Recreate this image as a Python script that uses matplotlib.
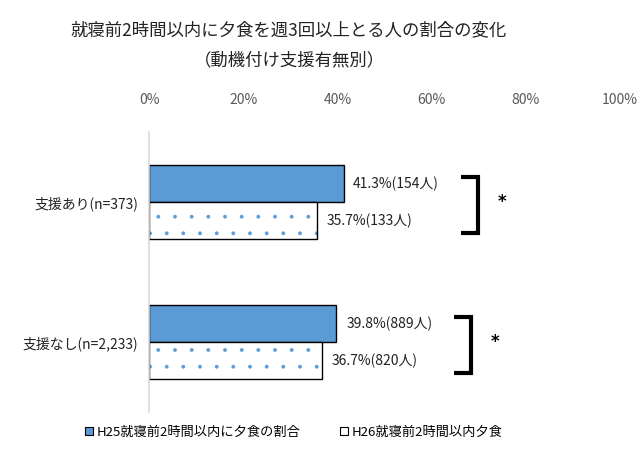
import numpy as np
import matplotlib
matplotlib.use("Agg")
import matplotlib.pyplot as plt
from matplotlib.patches import Patch

plt.rcParams["font.family"] = ["Noto Sans CJK JP", "DejaVu Sans"]
plt.rcParams["hatch.linewidth"] = 0.3

groups = ["支援あり(n=373)", "支援なし(n=2,233)"]
h25_pct = [41.3, 39.8]
h25_n = [154, 889]
h26_pct = [35.7, 36.7]
h26_n = [133, 820]
series_names = ["H25就寝前2時間以内に夕食の割合", "H26就寝前2時間以内夕食"]
x_ticks = [0, 20, 40, 60, 80, 100]

BLUE = "#5B9BD5"
BAR_H = 0.264

fig = plt.figure(figsize=(6.44, 4.66), dpi=100)
ax = fig.add_axes([149 / 644, 54 / 466, 471 / 644, 280 / 466])

y = np.arange(len(groups))
ax.barh(y - BAR_H / 2, h25_pct, height=BAR_H, color=BLUE, edgecolor="black", linewidth=1.0)
# dotted fill drawn in blue first, then the black outline on top
ax.barh(y + BAR_H / 2, h26_pct, height=BAR_H, color="white", edgecolor=BLUE,
        linewidth=0, hatch=".")
ax.barh(y + BAR_H / 2, h26_pct, height=BAR_H, fill=False, edgecolor="black", linewidth=1.0)

for yi, p, n in zip(y - BAR_H / 2, h25_pct, h25_n):
    ax.annotate(f"{p:.1f}%({n}人)", (p, yi), xytext=(7, 0), textcoords="offset points",
                ha="left", va="center", fontsize=10, color="#222222")
for yi, p, n in zip(y + BAR_H / 2, h26_pct, h26_n):
    ax.annotate(f"{p:.1f}%({n}人)", (p, yi), xytext=(7, 0), textcoords="offset points",
                ha="left", va="center", fontsize=10, color="#222222")

# significance brackets
for yi, a, b in zip(y, h25_pct, h26_pct):
    x0 = max(a, b) + 25
    x1 = x0 + 3.6
    ax.plot([x0, x1, x1, x0], [yi - 0.18, yi - 0.18, yi + 0.22, yi + 0.22],
            color="black", lw=3, solid_joinstyle="miter", solid_capstyle="butt", clip_on=False)
    ax.text(x1 + 5, yi + 0.0, "*", ha="center", va="center", fontsize=12,
            fontweight="bold", family="DejaVu Sans")

ax.set_xlim(0, 100)
ax.set_ylim(len(groups) - 0.5, -0.5)
ax.set_xticks(x_ticks)
ax.set_xticklabels([f"{t}%" for t in x_ticks], fontsize=10, color="#595959")
ax.xaxis.tick_top()
ax.tick_params(axis="x", length=0, pad=18)
ax.set_yticks(y)
ax.set_yticklabels(groups, fontsize=10, color="#222222")
ax.tick_params(axis="y", length=0, pad=8)
for side in ["top", "right", "bottom"]:
    ax.spines[side].set_visible(False)
ax.spines["left"].set_color("#D9D9D9")
ax.spines["left"].set_linewidth(1.2)

fig.text(289 / 644, 1 - 30 / 466, "就寝前2時間以内に夕食を週3回以上とる人の割合の変化",
         ha="center", va="center", fontsize=12.5, color="#222222")
fig.text(289 / 644, 1 - 60 / 466, "（動機付け支援有無別）",
         ha="center", va="center", fontsize=12.5, color="#222222")

handles = [Patch(facecolor=BLUE, edgecolor="black", linewidth=0.8),
           Patch(facecolor="white", edgecolor="black", linewidth=0.8)]
fig.legend(handles, series_names, loc="center", bbox_to_anchor=(294 / 644, 1 - 432 / 466),
           ncol=2, frameon=False, fontsize=9.5, handlelength=0.6, handleheight=0.6,
           handletextpad=0.3, columnspacing=3.0)

fig.savefig("out.png", dpi=100, facecolor="white")
